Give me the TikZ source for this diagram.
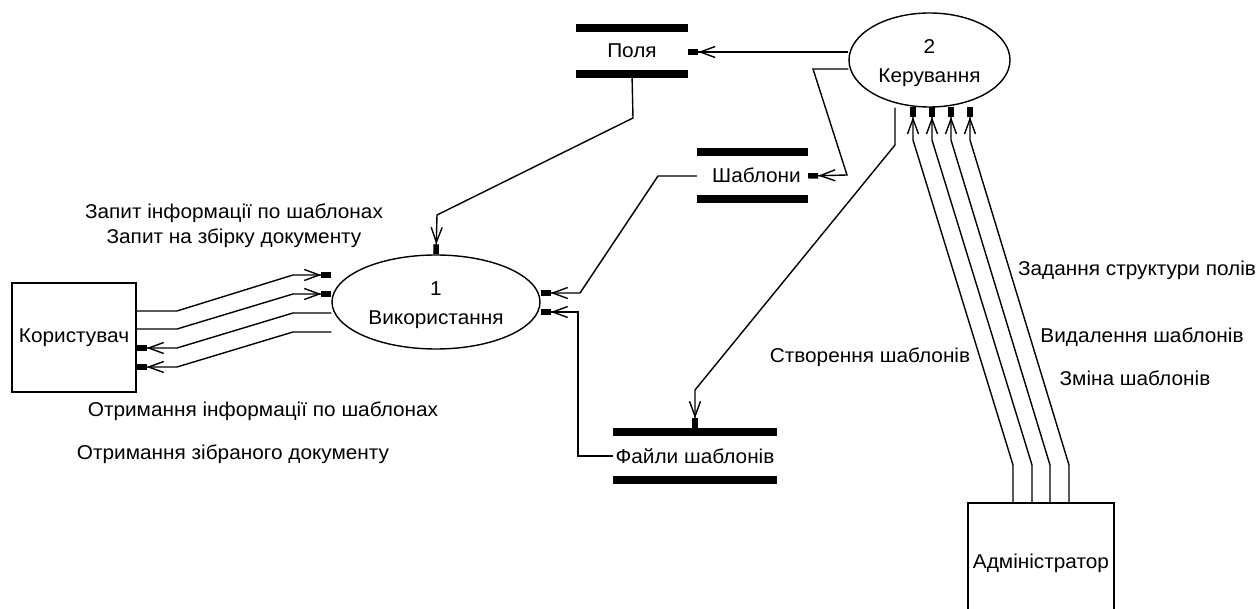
\documentclass[tikz,border=0pt]{standalone}
\usepackage{fontspec}
\setmainfont{Liberation Sans}[FakeStretch=1.04]
\usetikzlibrary{arrows.meta,shapes.geometric}
\begin{document}
\begin{tikzpicture}[x=1pt,y=-1pt,
  every node/.style={font=\fontsize{20}{24}\selectfont, inner sep=0pt},
  box/.style={draw, line width=1.4pt, rectangle},
  proc/.style={draw, line width=1.4pt, ellipse},
  ptext/.style={align=center},
  lbl/.style={anchor=center},
  bar/.style={line width=8pt},
  flow/.style={line width=1.4pt, -{Straight Barb[length=15pt,width=11pt] Rectangle[length=10pt,width=5.5pt]}},
  plain/.style={line width=1.4pt}
]
\clip (0,0) rectangle (1259,609);
% entities
\node[box, minimum width=124pt, minimum height=109pt] (user) at (74,337.5) {Користувач};
\node[box, minimum width=146pt, minimum height=120pt] (adm) at (1041,563) {Адміністратор};
% processes
\node[proc, minimum width=208pt, minimum height=94pt] (e1) at (436,302) {};
\node[ptext] (t1) at (436,305.5) {1\\[5pt]Використання};
\node[proc, minimum width=161pt, minimum height=94pt] (e2) at (929.5,60) {};
\node[ptext] (t2) at (929.5,63.5) {2\\[5pt]Керування};
% stores
\node[minimum width=112pt, minimum height=46pt] (pola) at (632,51) {Поля};
\node[minimum width=111pt, minimum height=47pt] (sab) at (752.5,175.5) {\hspace*{8pt}Шаблони};
\node[minimum width=164pt, minimum height=47pt] (fil) at (695,456) {Файли шаблонів};
\foreach \s in {pola,sab,fil}{
  \draw[bar] (\s.north west) -- (\s.north east);
  \draw[bar] (\s.south west) -- (\s.south east);
}
% labels
\node[lbl] (l1) at (234,213) {Запит інформації по шаблонах};
\node[lbl] (l2) at (234,238) {Запит на збірку документу};
\node[lbl] (l3) at (263,411) {Отримання інформації по шаблонах};
\node[lbl] (l4) at (233,454) {Отримання зібраного документу};
\node[lbl] (l5) at (870,357) {Створення шаблонів};
\node[lbl] (l6) at (1137,270) {Задання структури полів};
\node[lbl] (l7) at (1142,337) {Видалення шаблонів};
\node[lbl] (l8) at (1135,378) {Зміна шаблонів};
% user <-> process 1
\draw[flow] (user.east |- 0,311) -- (177,311) -- (293,275) -- (e1.west |- 0,275);
\draw[flow] (user.east |- 0,329) -- (177,329) -- (293,294) -- (e1.west |- 0,294);
\draw[flow] (e1.west |- 0,313) -- (293,313) -- (177,348) -- (user.east |- 0,348);
\draw[flow] (e1.west |- 0,332) -- (293,332) -- (177,367) -- (user.east |- 0,367);
% stores <-> processes
\draw[flow] (e2.west |- 0,52) -- (pola.east |- 0,52);
\draw[flow] (pola.south) -- (633,118) -- (437,215) -- (e1.north);
\draw[flow] (e2.west |- 0,69) -- (813,69) -- (847,175) -- (sab.east |- 0,176);
\draw[flow] (sab.west |- 0,176) -- (658,176) -- (580,293) -- (e1.east |- 0,293);
\draw[flow] (fil.west) -- (578,456) -- (578,312) -- (e1.east |- 0,312);
\draw[flow, shorten >=4pt] (e2.south -| 895,0) -- (895,145) -- (695,390) -- (fil.north);
% administrator -> process 2
\foreach \a/\b in {1013/913,1032/932,1050/951,1069/970}{
  \draw[flow] (adm.north -| \a,0) -- (\a,465) -- (\b,140) -- (\b,107);
}
\end{tikzpicture}
\end{document}
